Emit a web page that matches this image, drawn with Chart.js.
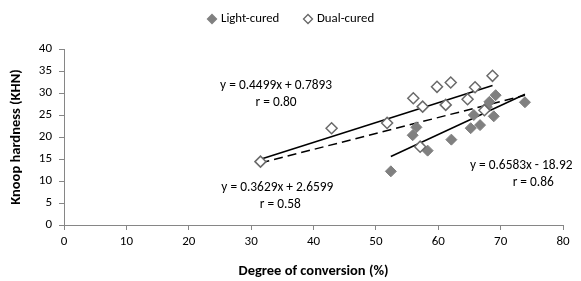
<!DOCTYPE html>
<html><head><meta charset="utf-8">
<script src="https://cdn.jsdelivr.net/npm/chart.js@4/dist/chart.umd.min.js"></script>
<style>html,body{margin:0;padding:0;background:#fff}#c{display:block}</style>
</head><body>
<canvas id="c" width="581" height="281"></canvas>
<script>
// ---- data ----
const seriesNames = ['Light-cured', 'Dual-cured'];
const lightX = [52.4, 56.5, 55.9, 58.3, 62.1, 65.2, 66.7, 65.7, 68.2, 69.2, 68.9, 73.9, 67.8];
const lightY = [12.2, 22.2, 20.4, 16.9, 19.4, 22.0, 22.7, 25.0, 28.0, 29.5, 24.7, 27.9, 26.8];
const dualX  = [31.5, 42.9, 51.8, 56.0, 57.5, 57.1, 61.2, 59.8, 62.0, 64.7, 65.9, 68.7, 67.4];
const dualY  = [14.4, 22.0, 23.2, 28.8, 26.9, 17.8, 27.3, 31.4, 32.4, 28.6, 31.3, 33.9, 26.1];
const xTicks = [0, 10, 20, 30, 40, 50, 60, 70, 80];
const yTicks = [0, 5, 10, 15, 20, 25, 30, 35, 40];
// trend lines (Excel-style): dual-cured, all data, light-cured
const fitSlopes     = [0.4499, 0.3629, 0.6583];
const fitIntercepts = [0.7893, 2.6599, -18.92];
const fitEquations  = ['y = 0.4499x + 0.7893', 'y = 0.3629x + 2.6599', 'y = 0.6583x - 18.92'];
const fitR          = ['r = 0.80', 'r = 0.58', 'r = 0.86'];
const xTitle = 'Degree of conversion (%)';
const yTitle = 'Knoop hardness (KHN)';

// ---- helpers ----
const pts = (xs, ys) => xs.map((x, i) => ({x, y: ys[i]}));
const allX = lightX.concat(dualX);
const fitRanges = [
  [Math.min(...dualX), Math.max(...dualX)],
  [Math.min(...allX), Math.max(...allX)],
  [Math.min(...lightX), Math.max(...lightX)]
];
const fitLine = i => fitRanges[i].map(x => ({x, y: fitSlopes[i] * x + fitIntercepts[i]}));

const FONT = 'Carlito, Lato, "Open Sans", sans-serif';
const AXIS = '#868686';

// label anchor positions (data units) and r-line x offsets (px), styling only
const labelPos = [[34.0, 31.7], [34.2, 8.6], [73.3, 13.5]];
const rShift = [0, 3, 12];

const annot = {
  id: 'annot',
  afterDatasetsDraw(chart) {
    const {ctx, scales: {x, y}} = chart;
    ctx.save();
    ctx.fillStyle = '#000';
    ctx.font = '13.4px ' + FONT;
    ctx.textAlign = 'center';
    ctx.textBaseline = 'middle';
    labelPos.forEach((p, i) => {
      const px = x.getPixelForValue(p[0]);
      const py = y.getPixelForValue(p[1]);
      ctx.fillText(fitEquations[i], px, py);
      ctx.fillText(fitR[i], px + rShift[i], py + 17);
    });
    // legend
    ctx.font = '12.8px ' + FONT;
    const items = [
      {name: seriesNames[0], fill: '#808080', stroke: '#808080', x: 212},
      {name: seriesNames[1], fill: '#fff', stroke: '#666', x: 308}
    ];
    items.forEach(it => {
      const cy = 19;
      ctx.beginPath();
      ctx.moveTo(it.x, cy - 4.5); ctx.lineTo(it.x + 4.5, cy); ctx.lineTo(it.x, cy + 4.5); ctx.lineTo(it.x - 4.5, cy); ctx.closePath();
      ctx.fillStyle = it.fill; ctx.fill();
      ctx.strokeStyle = it.stroke; ctx.lineWidth = 1.3; ctx.stroke();
      ctx.fillStyle = '#000';
      ctx.textAlign = 'left';
      ctx.fillText(it.name, it.x + 9, cy);
    });
    ctx.restore();
  }
};

new Chart(document.getElementById('c'), {
  type: 'scatter',
  data: {
    datasets: [
      {label: seriesNames[0], data: pts(lightX, lightY), pointStyle: 'rectRot', pointRadius: 5.5,
       backgroundColor: '#808080', borderColor: '#808080', borderWidth: 1, order: 1},
      {label: seriesNames[1], data: pts(dualX, dualY), pointStyle: 'rectRot', pointRadius: 5.5,
       backgroundColor: '#ffffff', borderColor: '#6a6a6a', borderWidth: 1.5, order: 0},
      {label: 'fit dual', type: 'line', data: fitLine(0), showLine: true, pointRadius: 0,
       borderColor: '#000', borderWidth: 1.5, fill: false, order: 2},
      {label: 'fit all', type: 'line', data: fitLine(1), showLine: true, pointRadius: 0,
       borderColor: '#000', borderWidth: 1.5, borderDash: [9, 5], fill: false, order: 2},
      {label: 'fit light', type: 'line', data: fitLine(2), showLine: true, pointRadius: 0,
       borderColor: '#000', borderWidth: 1.5, fill: false, order: 2}
    ]
  },
  options: {
    responsive: false,
    animation: false,
    devicePixelRatio: 1,
    layout: {padding: {top: 49, right: 18, left: 0, bottom: 0}},
    plugins: {legend: {display: false}, tooltip: {enabled: false}},
    scales: {
      x: {
        type: 'linear', min: 0, max: 80,
        afterBuildTicks: s => { s.ticks = xTicks.map(v => ({value: v})); },
        afterFit: s => { s.height = 56; },
        grid: {drawOnChartArea: false, drawTicks: true, tickLength: 5, color: AXIS},
        border: {color: AXIS, width: 1},
        ticks: {color: '#000', font: {family: FONT, size: 13}, padding: 4, maxRotation: 0},
        title: {display: true, text: xTitle, color: '#000', font: {family: FONT, size: 14.5, weight: 'bold'}, padding: {top: 4, bottom: 1}}
      },
      y: {
        type: 'linear', min: 0, max: 40,
        afterBuildTicks: s => { s.ticks = yTicks.map(v => ({value: v})); },
        afterFit: s => { s.width = 64; },
        grid: {drawOnChartArea: false, drawTicks: true, tickLength: 5, color: AXIS},
        border: {color: AXIS, width: 1},
        ticks: {color: '#000', font: {family: FONT, size: 13}, padding: 7},
        title: {display: true, text: yTitle, color: '#000', font: {family: FONT, size: 14.5, weight: 'bold'}, padding: {top: 8, bottom: 0}}
      }
    }
  },
  plugins: [annot]
});
</script>
</body></html>
